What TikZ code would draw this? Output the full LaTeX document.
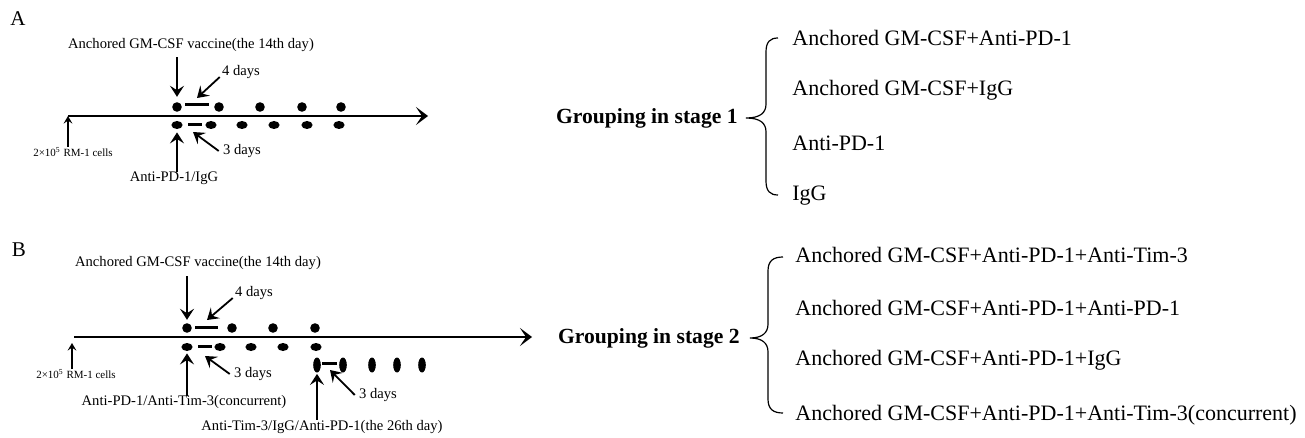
\documentclass[tikz,border=0pt]{standalone}
\usepackage{fontspec}
\setmainfont{Liberation Serif}
\usetikzlibrary{arrows.meta,shapes.geometric}

\tikzset{
  dotup/.style={circle,fill,inner sep=0pt,minimum size=4.8pt},
  dotlow/.style={ellipse,fill,inner sep=0pt,minimum width=5.6pt,minimum height=4pt},
  dotlate/.style={ellipse,fill,inner sep=0pt,minimum width=3.8pt,minimum height=7.5pt},
  timeline/.style={line width=1pt,-{Stealth[length=6pt,width=9pt,inset=3pt]}},
  pointer/.style={line width=0.9pt,-{Stealth[length=5.5pt,width=7pt,inset=2.2pt]}},
  tinypointer/.style={line width=0.6pt,-{Stealth[length=3.8pt,width=4.4pt,inset=1.5pt]}},
  spanbar/.style={line width=1.5pt},
  lbl/.style={font=\fontsize{7.3}{8}\selectfont,inner sep=1pt},
  cellnote/.style={font=\fontsize{5.5}{6}\selectfont,inner sep=1pt},
  grp/.style={font=\fontsize{10.8}{12}\selectfont\bfseries,inner sep=1pt,anchor=east},
  item/.style={font=\fontsize{11}{12}\selectfont,anchor=west,inner sep=0pt,text height=7.5pt,text depth=2.4pt},
  panel/.style={font=\fontsize{10.5}{12}\selectfont,inner sep=0pt},
  curly/.style={line width=0.6pt},
}

\begin{document}
\begin{tikzpicture}[x=0.5pt,y=-0.5pt]
	\useasboundingbox (0,0) rectangle (1305,438);
	% ---- A ----
	\node[panel] (pa) at (18,19) {A};
	\coordinate (t0A) at (68,116);
	\coordinate (t1A) at (428,116);
	\draw[timeline] (t0A) -- (t1A);
	\foreach\x [count=\i] in {177,219,260,302,341}{
		\node[dotup] (upA\i) at (\x,107) {};
	}
	\foreach\x [count=\i] in {177,211,242,274,307,339}{
		\node[dotlow] (lowA\i) at (\x,125) {};
	}
	\draw[spanbar] (185,105) -- (209,105);
	\draw[spanbar] (188,125) -- (202,125);
	\node[lbl] (vacA) at (191,45) {Anchored GM-CSF vaccine(the 14th day)};
	\draw[pointer] ([yshift=-1.5pt]vacA.south -| upA1) -- ([yshift=2.5pt]upA1.north);
	\node[lbl] (d4A) at (241,72) {4 days};
	\coordinate (d4Atip) at (197,98);
	\draw[pointer] ([yshift=2pt]d4A.south west) -- (d4Atip);
	\node[lbl] (d3A) at (242,151) {3 days};
	\coordinate (d3Atip) at (193,132);
	\draw[pointer] ([xshift=-1pt]d3A.west) -- (d3Atip);
	\node[lbl] (pdA) at (174,178) {Anti-PD-1/IgG};
	\draw[pointer] ([yshift=-1.5pt]pdA.north -| lowA1) -- ([yshift=-1.5pt]lowA1.south);
	\node[cellnote] (rmA) at (73,152) {2×10\textsuperscript{5} RM-1 cells};
	\draw[tinypointer] ([yshift=-1pt]rmA.north -| t0A) -- (t0A);
	% grouping 1
	\node[grp] (gA) at (740,118) {Grouping in stage 1};
	\foreach\y/\t [count=\i] in {40/Anchored GM-CSF+Anti-PD-1,90/Anchored GM-CSF+IgG,145/Anti-PD-1,195/IgG}{
		\node[item] (iA\i) at (792,\y) {\t};
	}
	\draw[curly] (778,38) .. controls (770,38) and (766,42) .. (766,52) -- (766,104)
		.. controls (766,113) and (760,118) .. (746,118)
		.. controls (760,118) and (766,123) .. (766,132) -- (766,181)
		.. controls (766,191) and (770,195) .. (778,195);
	% ---- B ----
	\node[panel] (pb) at (19,250) {B};
	\coordinate (t0B) at (74,337);
	\coordinate (t1B) at (532,337);
	\draw[timeline] (t0B) -- (t1B);
	\foreach\x [count=\i] in {187,232,273,315}{
		\node[dotup] (upB\i) at (\x,328) {};
	}
	\foreach\x [count=\i] in {187,220,251,283,316}{
		\node[dotlow] (lowB\i) at (\x,347) {};
	}
	\foreach\x [count=\i] in {317,343,372,397,422}{
		\node[dotlate] (lateB\i) at (\x,365) {};
	}
	\draw[spanbar] (195,327) -- (218,327);
	\draw[spanbar] (198,346) -- (212,346);
	\draw[spanbar] (322,363) -- (337,363);
	\node[lbl] (vacB) at (198,263) {Anchored GM-CSF vaccine(the 14th day)};
	\draw[pointer] ([yshift=-2pt]vacB.south -| upB1) -- ([yshift=1.5pt]upB1.north);
	\node[lbl] (d4B) at (254,293) {4 days};
	\coordinate (d4Btip) at (207,320);
	\draw[pointer] ([yshift=2pt]d4B.south west) -- (d4Btip);
	\node[lbl] (d3B) at (253,374) {3 days};
	\coordinate (d3Btip) at (205,356);
	\draw[pointer] ([xshift=-1pt]d3B.west) -- (d3Btip);
	\node[lbl] (cB) at (184,402) {Anti-PD-1/Anti-Tim-3(concurrent)};
	\draw[pointer] ([yshift=-1.5pt]cB.north -| lowB1) -- ([yshift=-1pt]lowB1.south);
	\node[lbl] (d3C) at (378,395) {3 days};
	\coordinate (d3Ctip) at (330,370);
	\draw[pointer] ([xshift=-1pt]d3C.west) -- (d3Ctip);
	\node[lbl] (lateB) at (322,427) {Anti-Tim-3/IgG/Anti-PD-1(the 26th day)};
	\draw[pointer] ([yshift=-1pt]lateB.north -| lateB1) -- ([yshift=-0.5pt]lateB1.south);
	\node[cellnote] (rmB) at (76,374) {2×10\textsuperscript{5} RM-1 cells};
	\coordinate (rmBtip) at (72,343);
	\draw[tinypointer] ([yshift=-1pt]rmB.north -| rmBtip) -- (rmBtip);
	% grouping 2
	\node[grp] (gB) at (742,338) {Grouping in stage 2};
	\foreach\y/\t [count=\i] in {257/Anchored GM-CSF+Anti-PD-1+Anti-Tim-3,310/Anchored GM-CSF+Anti-PD-1+Anti-PD-1,360/Anchored GM-CSF+Anti-PD-1+IgG,415/Anchored GM-CSF+Anti-PD-1+Anti-Tim-3(concurrent)}{
		\node[item] (iB\i) at (795,\y) {\t};
	}
	\draw[curly] (783,257) .. controls (773,257) and (768,261) .. (768,271) -- (768,324)
		.. controls (768,333) and (762,338) .. (750,338)
		.. controls (762,338) and (768,343) .. (768,352) -- (768,399)
		.. controls (768,409) and (773,413) .. (783,413);
\end{tikzpicture}
\end{document}
